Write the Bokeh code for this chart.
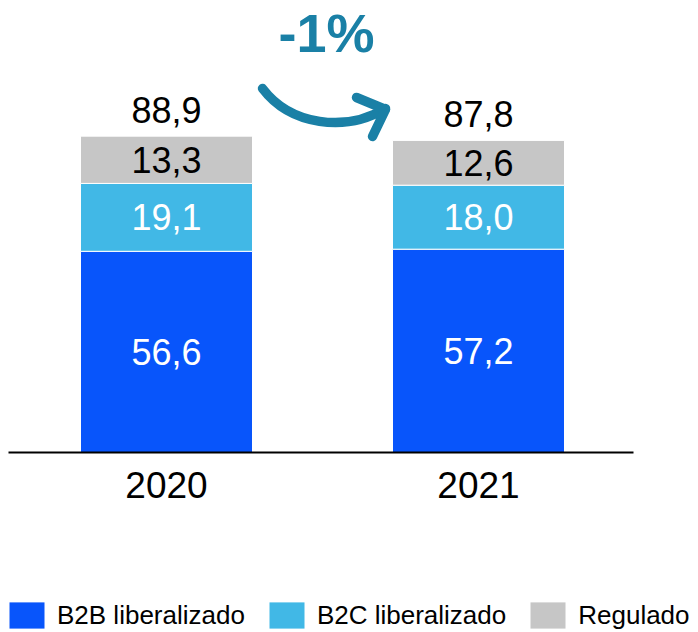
from bokeh.plotting import figure
from bokeh.models import ColumnDataSource, Range1d, Legend, LegendItem
from bokeh.core.properties import value
from bokeh.embed import file_html
from bokeh.resources import INLINE

years = ["2020", "2021"]
b2b = [56.6, 57.2]
b2c = [19.1, 18.0]
regulado = [13.3, 12.6]
totals = [88.9, 87.8]
series_names = ["B2B liberalizado", "B2C liberalizado", "Regulado"]
change_label = "-1%"

colors = ["#0855fb", "#41b8e6", "#c6c6c6"]
teal = "#1a80a6"
FONT = "Liberation Sans"

W, H = 698, 632
px_per_unit = 312.0      # pixels between category centres
y_scale = 3.5546         # pixels per value unit
x0_px, base_px = 166.0, 452.0

def dx(px):
    return (px - x0_px) / px_per_unit

def dy(py):
    return (base_px - py) / y_scale

xs = [0, 1]
src = ColumnDataSource(dict(x=xs, b2b=b2b, b2c=b2c, reg=regulado))

p = figure(width=W, height=H, output_backend="svg", toolbar_location=None,
           x_range=Range1d(dx(0), dx(W)), y_range=Range1d(dy(H), dy(0)),
           min_border=0, min_border_left=0, min_border_right=0,
           min_border_top=0, min_border_bottom=0)
p.outline_line_color = None
p.background_fill_color = "white"
p.border_fill_color = "white"
p.xgrid.visible = False
p.ygrid.visible = False
p.xaxis.visible = False
p.yaxis.visible = False

rs = p.vbar_stack(["b2b", "b2c", "reg"], x="x", width=172 / px_per_unit, source=src,
                  color=colors, line_color="white", line_width=1)

# baseline
p.segment(x0=[dx(8)], y0=[0], x1=[dx(633)], y1=[0], line_color="black", line_width=2)

# category labels
p.text(x=xs, y=[dy(484)] * 2, text=years, text_color="black", text_align="center",
       text_baseline="middle", text_font=value(FONT), text_font_size="37px")

# segment labels
lab_x, lab_y, lab_t, lab_c = [], [], [], []
for i in range(2):
    segs = [b2b[i], b2c[i], regulado[i]]
    cols = ["white", "white", "black"]
    base = 0.0
    for v, c in zip(segs, cols):
        lab_x.append(xs[i])
        lab_y.append(base + v / 2)
        lab_t.append(f"{v:.1f}".replace(".", ","))
        lab_c.append(c)
        base += v
p.text(x=lab_x, y=lab_y, text=lab_t, text_color=lab_c, text_align="center",
       text_baseline="middle", text_font=value(FONT), text_font_size="36px")

# totals
tot_top = [b2b[i] + b2c[i] + regulado[i] for i in range(2)]
p.text(x=xs, y=[t + 26 / y_scale for t in tot_top],
       text=[f"{t:.1f}".replace(".", ",") for t in totals],
       text_color="black", text_align="center", text_baseline="middle",
       text_font=value(FONT), text_font_size="36px")

# change arrow
p.bezier(x0=[dx(262)], y0=[dy(88)], x1=[dx(385)], y1=[dy(108)],
         cx0=[dx(290)], cy0=[dy(125)], cx1=[dx(345)], cy1=[dy(132)],
         line_color=teal, line_width=9.5, line_cap="round")
p.line(x=[dx(356), dx(385), dx(372)], y=[dy(97), dy(109), dy(136)],
       line_color=teal, line_width=9.5, line_cap="round", line_join="round")
p.text(x=[dx(326)], y=[dy(32)], text=[change_label], text_color=teal,
       text_align="center", text_baseline="middle", text_font=value(FONT),
       text_font_size="54px", text_font_style="bold")

legend = Legend(items=[LegendItem(label=n, renderers=[r]) for n, r in zip(series_names, rs)],
                location=(4, 0), orientation="horizontal",
                glyph_width=45, glyph_height=34, label_standoff=8, spacing=19,
                padding=0, margin=0, border_line_color=None, background_fill_alpha=0,
                label_text_font=FONT, label_text_font_size="26px", label_text_color="black")
p.add_layout(legend, "center")

open("out.html", "w").write(file_html(p, INLINE))
